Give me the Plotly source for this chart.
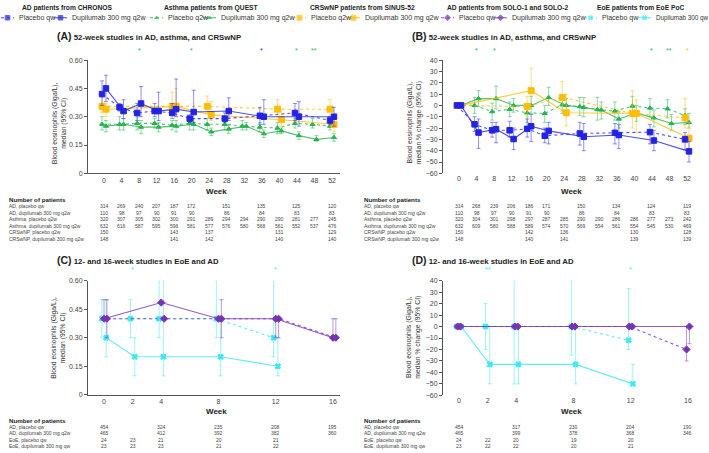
import plotly.graph_objects as go

W, H = 709, 453
FONT = "Liberation Sans, Arial, sans-serif"

# ---------------- data ----------------
weeks_ad52 = [0, 4, 8, 12, 16, 20, 28, 36, 44, 52]
weeks_asthma = [0, 4, 8, 12, 16, 20, 24, 28, 32, 36, 40, 44, 48, 52]
weeks_crs = [0, 16, 24, 40, 52]
weeks_solo = [0, 4, 8, 12, 16]
weeks_eoe = [0, 2, 4, 8, 12]
weeks_a_ticks = [0, 4, 8, 12, 16, 20, 24, 28, 32, 36, 40, 44, 48, 52]
weeks_c_ticks = [0, 2, 4, 8, 12, 16]

# Panel A: median blood eosinophils (Giga/L) with 95% CI
A_ad_pbo = [0.42, 0.35, 0.32, 0.33, 0.32, 0.29, 0.29, 0.305, 0.32, 0.28]
A_ad_pbo_lo = [0.36, 0.33, 0.28, 0.30, 0.29, 0.27, 0.27, 0.26, 0.28, 0.26]
A_ad_pbo_hi = [0.49, 0.37, 0.37, 0.37, 0.37, 0.31, 0.32, 0.35, 0.37, 0.30]
A_ad_dup = [0.45, 0.33, 0.37, 0.33, 0.34, 0.325, 0.33, 0.30, 0.30, 0.30]
A_ad_dup_lo = [0.38, 0.29, 0.30, 0.28, 0.30, 0.27, 0.28, 0.26, 0.25, 0.25]
A_ad_dup_hi = [0.52, 0.39, 0.46, 0.43, 0.50, 0.44, 0.40, 0.39, 0.38, 0.35]
A_as_pbo = [0.26, 0.26, 0.265, 0.265, 0.255, 0.265, 0.26, 0.26, 0.25, 0.245, 0.24, 0.265, 0.26, 0.25]
A_as_pbo_lo = [0.23, 0.23, 0.23, 0.24, 0.23, 0.23, 0.23, 0.23, 0.23, 0.22, 0.21, 0.24, 0.24, 0.23]
A_as_pbo_hi = [0.30, 0.30, 0.30, 0.29, 0.28, 0.29, 0.29, 0.29, 0.28, 0.27, 0.27, 0.29, 0.29, 0.29]
A_as_dup = [0.25, 0.26, 0.245, 0.245, 0.25, 0.26, 0.22, 0.235, 0.25, 0.21, 0.225, 0.20, 0.18, 0.19]
A_as_dup_lo = [0.22, 0.23, 0.21, 0.22, 0.22, 0.23, 0.20, 0.21, 0.23, 0.19, 0.21, 0.18, 0.17, 0.17]
A_as_dup_hi = [0.28, 0.29, 0.28, 0.27, 0.28, 0.29, 0.24, 0.26, 0.27, 0.23, 0.24, 0.22, 0.20, 0.21]
A_crs_pbo = [0.355, 0.355, 0.355, 0.34, 0.34]
A_crs_pbo_lo = [0.32, 0.31, 0.32, 0.30, 0.30]
A_crs_pbo_hi = [0.40, 0.43, 0.41, 0.39, 0.39]
A_crs_dup = [0.34, 0.355, 0.31, 0.284, 0.26]
A_crs_dup_lo = [0.30, 0.30, 0.28, 0.25, 0.22]
A_crs_dup_hi = [0.37, 0.45, 0.38, 0.34, 0.31]

# Panel B: median % change (95% CI)
B_ad_pbo = [0, -16.7, -22, -22, -20.7, -26.8, -24.8, -24.2, -23.6, -30]
B_ad_pbo_lo = [0, -23, -28, -28, -28, -33, -35, -34, -34, -39]
B_ad_pbo_hi = [0, -10, -15, -14, -12, -20, -15, -16, -17, -24]
B_ad_dup = [0, -24, -21, -29.7, -18.4, -22.5, -27.7, -26.2, -31, -40.6]
B_ad_dup_lo = [0, -38, -33, -39, -32, -34, -40, -38, -40, -50]
B_ad_dup_hi = [0, -12, -15, -20, -8, -15, -16, -17, -22, -32]
B_as_pbo = [0, 0, -5.5, -3.5, -6.6, -7, 0.5, -1, -3.7, -5, -0.6, -2.3, -3, -9]
B_as_pbo_lo = [0, -7, -13, -10, -15, -15, -7, -9, -13, -13, -10, -10, -11, -17]
B_as_pbo_hi = [0, 7, 2, 3, 1, 0, 6, 7, 7, 3, 8, 6, 5, -3]
B_as_dup = [0, 6, 6, 0, 0, 7, 0, -1.7, -4, -12, -6.6, -11, -16, -15]
B_as_dup_lo = [0, -1, -3, -6, -7, 0, -9, -10, -12, -20, -14, -19, -22, -20]
B_as_dup_hi = [0, 13, 17, 6, 8, 16, 6, 7, 3, -5, 0, -4, -8, -7]
B_crs_pbo = [0, -1, 7, -7, -11]
B_crs_pbo_lo = [0, -10, -5, -20, -20]
B_crs_pbo_hi = [0, 8, 21, 13, 6]
B_crs_dup = [0, 13, -6.5, -7, -29]
B_crs_dup_lo = [0, 0, -18, -24, -38]
B_crs_dup_hi = [0, 33, 10, 5, -15]

# Panel C: median (Giga/L)
C_solo_pbo = [0.40, 0.40, 0.40, 0.40, 0.30]
C_solo_pbo_lo = [0.30, 0.40, 0.30, 0.30, 0.30]
C_solo_pbo_hi = [0.50, 0.40, 0.50, 0.40, 0.40]
C_solo_dup = [0.40, 0.485, 0.40, 0.40, 0.30]
C_solo_dup_lo = [0.40, 0.485, 0.40, 0.30, 0.30]
C_solo_dup_hi = [0.50, 0.485, 0.40, 0.40, 0.40]
C_eoe_pbo = [0.40, 0.40, 0.40, 0.40, 0.30]
C_eoe_pbo_lo = [0.30, 0.30, 0.30, 0.30, 0.20]
C_eoe_pbo_hi = [0.50, 0.50, 0.60, 0.60, 0.60]
C_eoe_dup = [0.30, 0.20, 0.20, 0.20, 0.15]
C_eoe_dup_lo = [0.20, 0.10, 0.10, 0.10, 0.10]
C_eoe_dup_hi = [0.50, 0.30, 0.60, 0.40, 0.30]

# Panel D: median % change
D_solo_pbo = [0, 0, 0, 0, -20]
D_solo_pbo_lo = [0, 0, 0, 0, -30]
D_solo_pbo_hi = [0, 0, 0, 0, 0]
D_solo_dup = [0, 0, 0, 0, 0]
D_solo_dup_lo = [0, 0, 0, 0, -15]
D_solo_dup_hi = [0, 0, 0, 0, 0]
D_eoe_pbo = [0, 0, 0, 0, -12]
D_eoe_pbo_lo = [0, -20, -50, -25, -20]
D_eoe_pbo_hi = [0, 20, 40, 40, 33]
D_eoe_dup = [0, -33, -33, -33, -50]
D_eoe_dup_lo = [0, -50, -50, -50, -50]
D_eoe_dup_hi = [0, 0, 0, 0, -33]

# Significance markers: (week, text, series)
A_sig = [(8, "*", "as"), (20, "*", "as"), (36, "*", "ad"), (44, "*", "as"), (48, "**", "as")]
B_sig = [(4, "*", "as"), (8, "*", "as"), (44, "*", "as"), (48, "**", "as"), (52, "*", "crs")]
C_sig = [(2, "*", "eoe"), (12, "*", "eoe")]
D_sig = [(2, "**", "eoe"), (12, "*", "eoe")]

# Number of patients tables
rows_52 = ["AD, placebo qw", "AD, dupilumab 300 mg q2w", "Asthma, placebo q2w",
           "Asthma, dupilumab 300 mg q2w", "CRSwNP, placebo q2w", "CRSwNP, dupilumab 300 mg q2w"]
rows_16 = ["AD, placebo qw", "AD, dupilumab 300 mg q2w", "EoE, placebo qw", "EoE, dupilumab 300 mg qw"]
nA = [
    (weeks_ad52, [314, 269, 240, 207, 187, 172, 151, 135, 125, 120]),
    (weeks_ad52, [110, 98, 97, 90, 91, 90, 86, 84, 83, 83]),
    (weeks_asthma, [320, 307, 305, 302, 300, 291, 289, 294, 294, 290, 290, 281, 277, 245]),
    (weeks_asthma, [632, 616, 587, 595, 596, 581, 577, 576, 580, 568, 561, 552, 537, 476]),
    (weeks_crs, [150, 143, 137, 131, 129]),
    (weeks_crs, [148, 141, 142, 140, 140]),
]
nB = [
    (weeks_ad52, [314, 268, 239, 206, 186, 171, 150, 134, 124, 119]),
    (weeks_ad52, [110, 98, 97, 90, 91, 90, 86, 84, 83, 83]),
    (weeks_asthma, [320, 304, 301, 298, 297, 287, 285, 290, 290, 286, 286, 277, 273, 242]),
    (weeks_asthma, [632, 609, 580, 588, 589, 574, 570, 569, 554, 561, 554, 545, 530, 469]),
    (weeks_crs, [150, 142, 136, 130, 128]),
    (weeks_crs, [148, 140, 141, 139, 139]),
]
nC = [
    ([0, 4, 8, 12, 16], [454, 324, 235, 208, 195]),
    ([0, 4, 8, 12, 16], [465, 412, 392, 382, 360]),
    (weeks_eoe, [24, 23, 21, 20, 21]),
    (weeks_eoe, [23, 23, 23, 21, 22]),
]
nD = [
    ([0, 4, 8, 12, 16], [454, 317, 230, 204, 190]),
    ([0, 4, 8, 12, 16], [465, 399, 378, 368, 346]),
    (weeks_eoe, [24, 22, 20, 19, 20]),
    (weeks_eoe, [23, 22, 22, 20, 21]),
]

legend_groups = ["AD patients from CHRONOS", "Asthma patients from QUEST", "CRSwNP patients from SINUS-52",
                 "AD patients from SOLO-1 and SOLO-2", "EoE patients from EoE PoC"]
legend_labels = [("Placebo qw", "Dupilumab 300 mg q2w"), ("Placebo q2w", "Dupilumab 300 mg q2w"),
                 ("Placebo q2w", "Dupilumab 300 mg q2w"), ("Placebo qw", "Dupilumab 300 mg q2w"),
                 ("Placebo qw", "Dupilumab 300 qw")]

# ---------------- style ----------------
COL = {"ad": (35, 35, 225), "as": (40, 180, 80), "crs": (255, 190, 10),
       "solo": (120, 50, 180), "eoe": (60, 232, 242)}
SYM = {"ad": "square", "as": "triangle-up", "crs": "square", "solo": "diamond", "eoe": "x"}
MSZ = {"ad": 5.5, "as": 4.5, "crs": 6, "solo": 5.5, "eoe": 5}
OFF52 = {"pbo": -0.45, "dup": 0.45}
OFF16 = {"pbo": -0.15, "dup": 0.15}


def rgba(c, a):
    return "rgba(%d,%d,%d,%.2f)" % (c[0], c[1], c[2], a)


def px(x, y):
    return x / W, 1 - y / H


fig = go.Figure()


def add_series(weeks, y, lo, hi, key, arm, ax, offsets):
    c = COL[key]
    xs = [w + offsets[arm] for w in weeks]
    fig.add_trace(go.Scatter(
        x=xs, y=y, mode="lines+markers", xaxis="x" + ax, yaxis="y" + ax,
        line=dict(color=rgba(c, 0.8), width=1.1, dash="dot" if arm == "pbo" else "solid"),
        marker=dict(symbol=SYM[key], size=MSZ[key], color=rgba(c, 1),
                    line=dict(width=1, color=rgba(c, 1))),
        error_y=dict(type="data", symmetric=False,
                     array=[h - v for h, v in zip(hi, y)],
                     arrayminus=[v - l for v, l in zip(y, lo)],
                     color=rgba(c, 0.5), thickness=1, width=2),
        showlegend=False, cliponaxis=False, hoverinfo="skip"))


# Panel A (axis '')
add_series(weeks_asthma, A_as_pbo, A_as_pbo_lo, A_as_pbo_hi, "as", "pbo", "", OFF52)
add_series(weeks_asthma, A_as_dup, A_as_dup_lo, A_as_dup_hi, "as", "dup", "", OFF52)
add_series(weeks_crs, A_crs_pbo, A_crs_pbo_lo, A_crs_pbo_hi, "crs", "pbo", "", OFF52)
add_series(weeks_crs, A_crs_dup, A_crs_dup_lo, A_crs_dup_hi, "crs", "dup", "", OFF52)
add_series(weeks_ad52, A_ad_pbo, A_ad_pbo_lo, A_ad_pbo_hi, "ad", "pbo", "", OFF52)
add_series(weeks_ad52, A_ad_dup, A_ad_dup_lo, A_ad_dup_hi, "ad", "dup", "", OFF52)
# Panel B
add_series(weeks_asthma, B_as_pbo, B_as_pbo_lo, B_as_pbo_hi, "as", "pbo", "2", OFF52)
add_series(weeks_asthma, B_as_dup, B_as_dup_lo, B_as_dup_hi, "as", "dup", "2", OFF52)
add_series(weeks_crs, B_crs_pbo, B_crs_pbo_lo, B_crs_pbo_hi, "crs", "pbo", "2", OFF52)
add_series(weeks_crs, B_crs_dup, B_crs_dup_lo, B_crs_dup_hi, "crs", "dup", "2", OFF52)
add_series(weeks_ad52, B_ad_pbo, B_ad_pbo_lo, B_ad_pbo_hi, "ad", "pbo", "2", OFF52)
add_series(weeks_ad52, B_ad_dup, B_ad_dup_lo, B_ad_dup_hi, "ad", "dup", "2", OFF52)
# Panel C
add_series(weeks_eoe, C_eoe_pbo, C_eoe_pbo_lo, C_eoe_pbo_hi, "eoe", "pbo", "3", OFF16)
add_series(weeks_eoe, C_eoe_dup, C_eoe_dup_lo, C_eoe_dup_hi, "eoe", "dup", "3", OFF16)
add_series(weeks_solo, C_solo_pbo, C_solo_pbo_lo, C_solo_pbo_hi, "solo", "pbo", "3", {"pbo": 0.2, "dup": 0.2})
add_series(weeks_solo, C_solo_dup, C_solo_dup_lo, C_solo_dup_hi, "solo", "dup", "3", {"pbo": 0.0, "dup": 0.0})
# Panel D
add_series(weeks_eoe, D_eoe_pbo, D_eoe_pbo_lo, D_eoe_pbo_hi, "eoe", "pbo", "4", OFF16)
add_series(weeks_eoe, D_eoe_dup, D_eoe_dup_lo, D_eoe_dup_hi, "eoe", "dup", "4", OFF16)
add_series(weeks_solo, D_solo_pbo, D_solo_pbo_lo, D_solo_pbo_hi, "solo", "pbo", "4", {"pbo": -0.1, "dup": 0})
add_series(weeks_solo, D_solo_dup, D_solo_dup_lo, D_solo_dup_hi, "solo", "dup", "4", {"pbo": 0, "dup": 0.1})

# ---------------- legend keys (overlay axis in pixel units) ----------------
key_order = ["ad", "as", "crs", "solo", "eoe"]
group_x0 = [1, 150, 293, 441, 584]          # left edge of first key in each group (px)
second_key_dx = [53, 53, 54, 53, 54]        # offset of second key from first (px)
group_title_cx = [67, 212, 362, 507, 640]
legend_font_sizes = [(7, 7), (7, 7), (7, 7), (7, 7), (7, 6.3)]
annots = []
for i, key in enumerate(key_order):
    c = COL[key]
    for j, arm in enumerate(["pbo", "dup"]):
        x0 = group_x0[i] + (second_key_dx[i] if j == 1 else 0)
        fig.add_trace(go.Scatter(
            x=[x0, x0 + 6.5, x0 + 13], y=[14, 14, 14], mode="lines+markers",
            xaxis="x5", yaxis="y5",
            line=dict(color=rgba(c, 0.85), width=1, dash="dot" if arm == "pbo" else "solid"),
            marker=dict(symbol=SYM[key], size=[0, MSZ[key] - 1, 0], color=rgba(c, 1),
                        line=dict(width=1, color=rgba(c, 1))),
            showlegend=False, hoverinfo="skip", cliponaxis=False))
        lx, ly = px(x0 + 16, 14)
        annots.append(dict(x=lx, y=ly, xref="paper", yref="paper", text=legend_labels[i][j],
                           showarrow=False, xanchor="left", yanchor="middle",
                           font=dict(size=legend_font_sizes[i][j], color="#333", family=FONT)))
    tx, ty = px(group_title_cx[i], 4.5)
    annots.append(dict(x=tx, y=ty, xref="paper", yref="paper", text="<b>%s</b>" % legend_groups[i],
                       showarrow=False, xanchor="center", yanchor="middle",
                       font=dict(size=6.7, color="#222", family=FONT)))

# ---------------- axes ----------------
tick_font = dict(size=7, color="#444", family=FONT)


def dom_x(a, b):
    return [a / W, b / W]


def dom_y(top, bottom):
    return [1 - bottom / H, 1 - top / H]


common_x = dict(showgrid=False, zeroline=False, tickfont=tick_font, ticks="", fixedrange=True)
common_y = dict(showgrid=False, showline=True, linecolor="#555", linewidth=1, ticks="outside",
                ticklen=3, tickcolor="#555", tickfont=tick_font, fixedrange=True)

layout = dict(
    width=W, height=H, margin=dict(l=0, r=0, t=0, b=0),
    paper_bgcolor="white", plot_bgcolor="rgba(0,0,0,0)", showlegend=False,
    font=dict(family=FONT),
    xaxis=dict(domain=dom_x(88, 340), range=[-3.65, 53.82], tickvals=weeks_a_ticks, showline=True,
               linecolor="#555", linewidth=1, anchor="y", **common_x),
    yaxis=dict(domain=dom_y(57, 172), range=[0, 0.6], tickvals=[0, 0.15, 0.30, 0.45, 0.60],
               ticktext=["0", "0.15", "0.30", "0.45", "0.60"], anchor="x", **common_y),
    xaxis2=dict(domain=dom_x(443, 695), range=[-3.65, 53.82], tickvals=weeks_a_ticks, showline=False,
                anchor="y2", **common_x),
    yaxis2=dict(domain=dom_y(57, 172), range=[-60, 40], tickvals=list(range(-60, 41, 10)),
                ticktext=["\u221260", "\u221250", "\u221240", "\u221230", "\u221220", "\u221210", "0",
                          "10", "20", "30", "40"], anchor="x2", **common_y),
    xaxis3=dict(domain=dom_x(88, 340), range=[-1.12, 16.49], tickvals=weeks_c_ticks, showline=True,
                linecolor="#555", linewidth=1, anchor="y3", **common_x),
    yaxis3=dict(domain=dom_y(281, 397), range=[0, 0.6], tickvals=[0, 0.15, 0.30, 0.45, 0.60],
                ticktext=["0", "0.15", "0.30", "0.45", "0.60"], anchor="x3", **common_y),
    xaxis4=dict(domain=dom_x(443, 695), range=[-1.12, 16.49], tickvals=weeks_c_ticks, showline=False,
                anchor="y4", **common_x),
    yaxis4=dict(domain=dom_y(281, 397.5), range=[-60, 40], tickvals=list(range(-60, 41, 10)),
                ticktext=["\u221260", "\u221250", "\u221240", "\u221230", "\u221220", "\u221210", "0",
                          "10", "20", "30", "40"], anchor="x4", **common_y),
    xaxis5=dict(domain=[0, 1], range=[0, W], visible=False, fixedrange=True, anchor="y5"),
    yaxis5=dict(domain=[0, 1], range=[H, 0], visible=False, fixedrange=True, anchor="x5"),
)
fig.update_layout(**layout)

# zero reference lines in B and D
for xa, ya, rng in [("x2", "y2", [-3.65, 53.82]), ("x4", "y4", [-1.12, 16.49])]:
    fig.add_shape(type="line", xref=xa, yref=ya, x0=rng[0], x1=rng[1], y0=0, y1=0,
                  line=dict(color="#555", width=1), layer="below")

# ---------------- panel annotations ----------------
panels = [
    ("A", "52-week studies in AD, asthma, and CRSwNP", 55, 33, 57, 172, 121, 190, "", A_sig, nA, rows_52, 199),
    ("B", "52-week studies in AD, asthma, and CRSwNP", 410, 33, 57, 172, 121, 190, "2", B_sig, nB, rows_52, 199),
    ("C", "12- and 16-week studies in EoE and AD", 55, 260, 281, 397, 339, 414, "3", C_sig, nC, rows_16, 423),
    ("D", "12- and 16-week studies in EoE and AD", 410, 260, 281, 397, 339, 414, "4", D_sig, nD, rows_16, 423),
]
ytitles = {"A": "Blood eosinophils (Giga/L),<br>median (95% CI)",
           "B": "Blood eosinophils (Giga/L),<br>median % change (95% CI)",
           "C": "Blood eosinophils (Giga/L),<br>median (95% CI)",
           "D": "Blood eosinophils (Giga/L),<br>median % change (95% CI)"}
for letter, title, tx0, ty0, top, bottom, ymid, weeky, ax, sig, ntab, rows, npy in panels:
    base = 0 if letter in "AC" else 355
    x, y = px(tx0, ty0)
    annots.append(dict(x=x, y=y, xref="paper", yref="paper", xanchor="left", yanchor="middle",
                       showarrow=False,
                       text="<b><span style='font-size:10.5px'>(%s)</span> %s</b>" % (letter, title),
                       font=dict(size=7.8, color="#222", family=FONT)))
    x, y = px(base + 59, ymid)
    annots.append(dict(x=x, y=y, xref="paper", yref="paper", xanchor="center", yanchor="middle",
                       showarrow=False, textangle=-90, text=ytitles[letter],
                       font=dict(size=6.8, color="#333", family=FONT)))
    x, y = px(base + 216, weeky)
    annots.append(dict(x=x, y=y, xref="paper", yref="paper", xanchor="center", yanchor="middle",
                       showarrow=False, text="<b>Week</b>", font=dict(size=8, color="#222", family=FONT)))
    # significance markers
    sig_y = 47 if letter in "AB" else 270
    for wk, txt, key in sig:
        _, yy = px(0, sig_y)
        annots.append(dict(x=wk, y=yy, xref="x" + ax, yref="paper", xanchor="center", yanchor="middle",
                           showarrow=False, text=txt, font=dict(size=7, color=rgba(COL[key], 1), family=FONT)))
    # table
    x, y = px(base + 7, npy)
    annots.append(dict(x=x, y=y, xref="paper", yref="paper", xanchor="left", yanchor="middle",
                       showarrow=False, text="<b>Number of patients</b>",
                       font=dict(size=6.2, color="#222", family=FONT)))
    for r, (label, (wks, vals)) in enumerate(zip(rows, ntab)):
        ry = npy + 6.6 * (r + 1)
        x, y = px(base + 7, ry)
        annots.append(dict(x=x, y=y, xref="paper", yref="paper", xanchor="left", yanchor="middle",
                           showarrow=False, text=label, font=dict(size=5, color="#444", family=FONT)))
        for wk, v in zip(wks, vals):
            _, yy = px(0, ry)
            annots.append(dict(x=wk, y=yy, xref="x" + ax, yref="paper", xanchor="center",
                               yanchor="middle", showarrow=False, text=str(v),
                               font=dict(size=5, color="#444", family=FONT)))

fig.update_layout(annotations=annots)
fig.write_html("out.html", config={"displayModeBar": False},
               post_script="document.body.style.margin='0';document.body.style.overflow='hidden';")
